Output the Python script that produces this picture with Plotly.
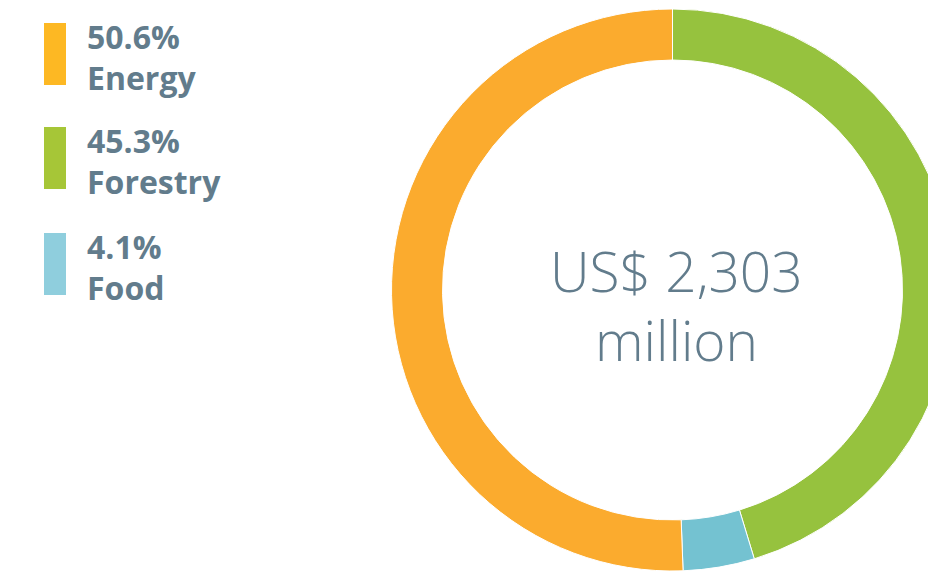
import plotly.graph_objects as go

# Investment by sector (share of total, %)
sectors = ["Energy", "Forestry", "Food"]
shares = [50.6, 45.3, 4.1]
ring_colors = ["#FBAB2E", "#96C23E", "#74C2D1"]
legend_colors = ["#FDB823", "#A6C637", "#8FCEDD"]
total_musd = 2303

# Order of slices around the ring, clockwise from 12 o'clock
ring_order = ["Forestry", "Food", "Energy"]

W, H = 1000, 572          # canvas (right part of the ring runs off the view)
TEXT = "#627C8C"
FONT = "Open Sans"


def px(x):
    return x / W


def py(y):
    return 1 - y / H


idx = [sectors.index(s) for s in ring_order]

cx, cy, r_out, r_in = 672.5, 290.0, 281.0, 230.0

fig = go.Figure(
    go.Pie(
        labels=[sectors[i] for i in idx],
        values=[shares[i] for i in idx],
        marker=dict(colors=[ring_colors[i] for i in idx],
                    line=dict(color="white", width=1)),
        hole=r_in / r_out,
        sort=False,
        direction="clockwise",
        rotation=0,
        textinfo="none",
        hoverinfo="label+percent",
        showlegend=False,
        domain=dict(x=[px(cx - r_out), px(cx + r_out)],
                    y=[py(cy + r_out), py(cy - r_out)]),
    )
)

annotations = []
shapes = []

# Legend: colour bar, percentage and sector name
bar_tops = [23, 127, 233]
legend_font = dict(family=FONT, size=32, color=TEXT, weight=700)
for i, name in enumerate(sectors):
    top = bar_tops[i]
    shapes.append(dict(type="rect", xref="paper", yref="paper",
                       x0=px(44), x1=px(66), y0=py(top), y1=py(top + 62),
                       fillcolor=legend_colors[i], line=dict(width=0)))
    annotations.append(dict(text=f"{shares[i]:.1f}%", x=px(86), y=py(top + 13.5),
                            xref="paper", yref="paper", xanchor="left",
                            yanchor="middle", showarrow=False, borderpad=0,
                            font=legend_font))
    annotations.append(dict(text=name, x=px(86), y=py(top + 54.5),
                            xref="paper", yref="paper", xanchor="left",
                            yanchor="middle", showarrow=False, borderpad=0,
                            font=legend_font))

# Total in the centre of the ring
centre_font = dict(family=FONT, size=55, color=TEXT, weight=300)
annotations.append(dict(text=f"US$ {total_musd:,}", x=px(676.5), y=py(270),
                        xref="paper", yref="paper", xanchor="center",
                        yanchor="middle", showarrow=False, borderpad=0,
                        font=centre_font))
annotations.append(dict(text="million", x=px(676.5), y=py(339),
                        xref="paper", yref="paper", xanchor="center",
                        yanchor="middle", showarrow=False, borderpad=0,
                        font=centre_font))

fig.update_layout(
    width=W, height=H,
    margin=dict(l=0, r=0, t=0, b=0),
    paper_bgcolor="white",
    plot_bgcolor="white",
    annotations=annotations,
    shapes=shapes,
)

fig.write_html(
    "out.html",
    post_script="document.body.style.margin='0';document.body.style.overflow='hidden';",
)
